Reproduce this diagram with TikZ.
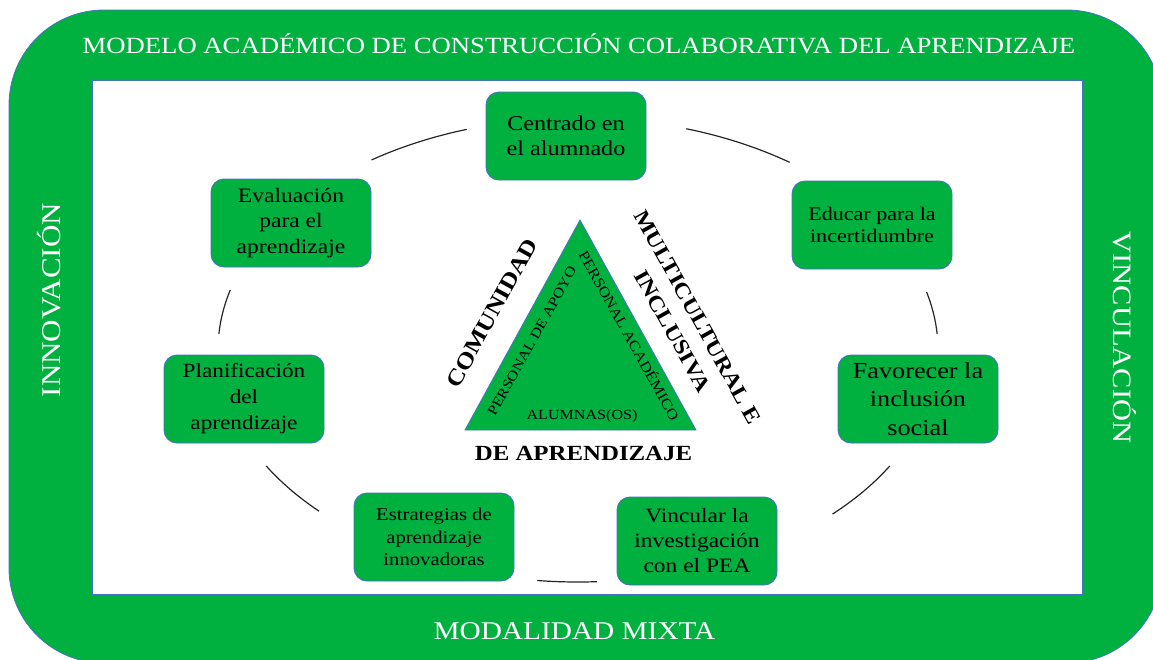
\documentclass[tikz,border=0pt]{standalone}
\usepackage{fontspec}
\setmainfont{Liberation Serif}[FakeStretch=1.15]
\definecolor{gr}{HTML}{00B140}
\definecolor{bl}{HTML}{4472C4}
\tikzset{
  box/.style={draw=bl, line width=0.9pt, fill=gr, rounded corners=13pt,
    minimum width=160pt, minimum height=88pt, align=center, inner sep=2pt, text=black},
  arcline/.style={line width=1.2pt, draw=black!85},
  frametxt/.style={text=white, inner sep=0pt},
  tritxt/.style={inner sep=0pt},
  bigtxt/.style={inner sep=0pt, align=center},
}
\newcommand{\fs}[2]{\fontsize{#1}{#2}\selectfont}
\begin{document}
\begin{tikzpicture}[x=1pt,y=-1pt]
\useasboundingbox (0,0) rectangle (1153,659);
\clip (0,0) rectangle (1153,659);
% frame
\draw[fill=gr, draw=bl, line width=0.8pt, rounded corners=95pt] (9,10) rectangle (1162,663);
\draw[fill=white, draw=bl, line width=0.8pt] (92,80) rectangle (1082,594);
% frame texts
\node[frametxt, anchor=base, font=\fs{23.2}{27}] (title) at (579,53) {MODELO ACADÉMICO DE CONSTRUCCIÓN COLABORATIVA DEL APRENDIZAJE};
\node[frametxt, anchor=base, font=\fs{25.5}{29}] (mixta) at (574.5,639) {MODALIDAD MIXTA};
\node[frametxt, anchor=base, rotate=90, font=\fs{27}{30}] (innov) at (60,300) {INNOVACIÓN};
\node[frametxt, anchor=base, rotate=-90, font=\fs{26.5}{30}] (vinc) at (1113,337.5) {VINCULACIÓN};
% boxes
\node[box, font=\fs{21}{25}] (c1) at (566,136) {Centrado en\\el alumnado};
\node[box, font=\fs{19.2}{22.5}] (c2) at (872,225) {Educar para la\\incertidumbre};
\node[box, font=\fs{22.8}{28.5}] (c3) at (918,399) {Favorecer la\\inclusión\\social};
\node[box, font=\fs{20.4}{25}] (c4) at (697,541) {Vincular la\\investigación\\con el PEA};
\node[box, font=\fs{18}{22.5}] (c5) at (434,537) {Estrategias de\\aprendizaje\\innovadoras};
\node[box, font=\fs{20.2}{26}] (c6) at (244,399) {Planificación\\del\\aprendizaje};
\node[box, font=\fs{20.5}{25.5}] (c7) at (291,223) {Evaluación\\para el\\aprendizaje};
% arcs of the surrounding ellipse
\foreach \a/\b in {235/252, 287.5/306, 345.5/356, 30/45, 87/96.5, 136/150, 184/195}{
  \draw[arcline] plot[domain=\a:\b, samples=25, smooth] ({578+360*cos(\x)},{350+232*sin(\x)});
}
% triangle
\coordinate (tA) at (580,220);
\coordinate (tL) at (465,430);
\coordinate (tR) at (696,430);
\draw[fill=gr, draw=bl, line width=0.8pt] (tA) -- (tL) -- (tR) -- cycle;
\node[tritxt, rotate=61, font=\fs{14}{16}] (apoyo) at (532,341) {PERSONAL DE APOYO};
\node[tritxt, rotate=-61, font=\fs{14.5}{16}] (acad) at (630,335) {PERSONAL ACADÉMICO};
\node[tritxt, font=\fs{14}{16}] (alum) at (582,416) {ALUMNAS(OS)};
\node[bigtxt, rotate=61, font=\bfseries\fs{22.5}{28}] (comu) at (492,313) {COMUNIDAD};
\node[bigtxt, rotate=-61, font=\bfseries\fs{21.5}{29}] (multi) at (685,324) {MULTICULTURAL E\\INCLUSIVA};
\node[bigtxt, font=\bfseries\fs{21.6}{26}] (deap) at (583.5,453.5) {DE APRENDIZAJE};
\end{tikzpicture}
\end{document}
